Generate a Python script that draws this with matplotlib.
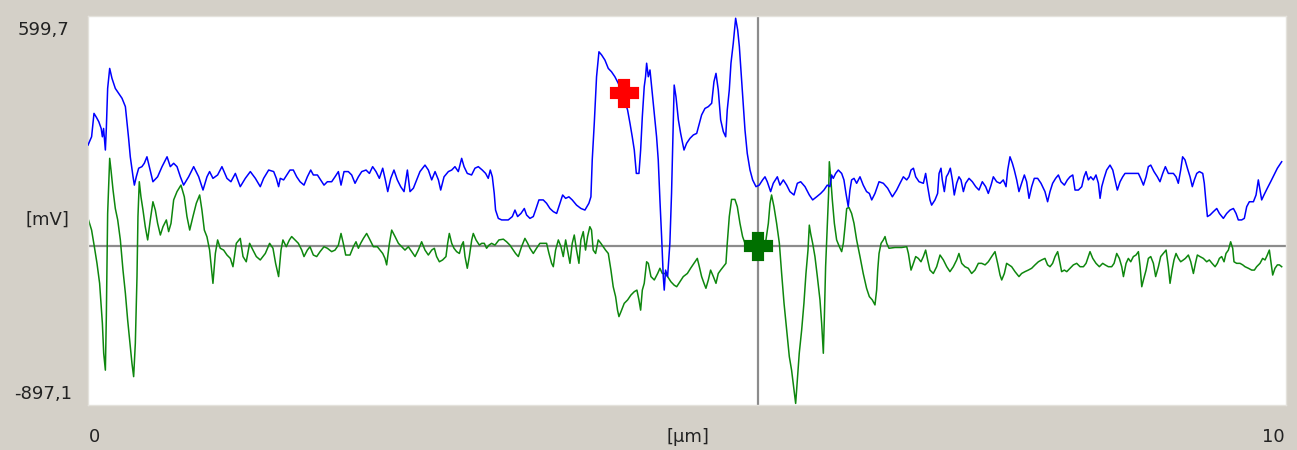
import numpy as np
import matplotlib
matplotlib.use("Agg")
import matplotlib.pyplot as plt

# profile traces, (position [um], signal [mV])
blue_trace = [
    (0.00, 103), (0.03, 135), (0.05, 225), (0.07, 210), (0.09, 193), (0.11, 167), (0.12, 135),
    (0.13, 167), (0.145, 84), (0.153, 167), (0.164, 321), (0.181, 398), (0.20, 360), (0.228, 321),
    (0.256, 302), (0.284, 283), (0.312, 251), (0.326, 187), (0.339, 129), (0.353, 58), (0.376, -19),
    (0.387, -51), (0.403, -19), (0.423, 14), (0.45, 20), (0.47, 33), (0.492, 58), (0.515, 14),
    (0.542, -38), (0.581, -19), (0.618, 20), (0.66, 58), (0.687, 20), (0.715, 33), (0.743, 20),
    (0.771, -19), (0.798, -51), (0.84, -19), (0.882, 20), (0.924, -19), (0.96, -70), (0.993, -19),
    (1.015, 1), (1.043, -25), (1.082, -12), (1.118, 20), (1.16, -25), (1.193, -38), (1.23, -6),
    (1.271, -57), (1.313, -25), (1.355, 1), (1.397, -25), (1.438, -57), (1.466, -25), (1.508, 7),
    (1.55, 1), (1.572, -25), (1.591, -57), (1.605, -25), (1.633, -31),
    (1.659, -12), (1.686, 7), (1.714, 7), (1.742, -19), (1.77, -38), (1.803, -51), (1.831, -19),
    (1.859, 7), (1.881, -12), (1.915, -12), (1.942, -31), (1.97, -51), (1.998, -38), (2.034, -38),
    (2.062, -19), (2.09, 1), (2.112, -51), (2.137, 1), (2.173, 1), (2.201, -12), (2.229, -44),
    (2.257, -19), (2.285, 1), (2.321, 7), (2.349, -6), (2.376, 20), (2.404, 1), (2.432, -25),
    (2.46, 14), (2.482, -31), (2.502, -76), (2.527, -25), (2.554, 7), (2.582, -31), (2.61, -57),
    (2.638, -76), (2.666, 7), (2.688, -76), (2.716, -63), (2.744, -31), (2.771, 1), (2.813, 26),
    (2.841, 7), (2.869, -31), (2.897, 1), (2.925, -31), (2.944, -70), (2.972, -19), (3.008, 1),
    (3.036, 7), (3.063, 20), (3.091, 1), (3.119, 52), (3.139, 20), (3.166, -6), (3.202, -12),
    (3.23, 14), (3.258, 20),
    (3.291, 7), (3.319, -6), (3.341, -25), (3.358, 7), (3.375, -19), (3.391, -83), (3.402, -147),
    (3.425, -179), (3.453, -185), (3.508, -185), (3.542, -172), (3.564, -147), (3.586, -172),
    (3.614, -160), (3.642, -141), (3.661, -166), (3.689, -179), (3.717, -172), (3.736, -147),
    (3.764, -108), (3.8, -108), (3.828, -121), (3.856, -141), (3.884, -153), (3.912, -160),
    (3.939, -121), (3.962, -89), (3.987, -102), (4.014, -96), (4.042, -108), (4.078, -128),
    (4.115, -141), (4.148, -147), (4.181, -121), (4.198, -96), (4.209, 46), (4.226, 187),
    (4.245, 366), (4.265, 462), (4.287, 450), (4.315, 430), (4.343, 398), (4.37, 385), (4.398, 366),
    (4.426, 341), (4.454, 309), (4.482, 270), (4.504, 238), (4.524, 187), (4.543, 135), (4.56, 84),
    (4.577, -6), (4.599, -6), (4.613, 84), (4.627, 212), (4.643, 328), (4.654, 366), (4.663, 418),
    (4.677, 366), (4.691, 392), (4.705, 328), (4.724, 238), (4.746, 135), (4.76, 46), (4.774, -108),
    (4.788, -249), (4.802, -403), (4.81, -455), (4.821, -378), (4.838, -403), (4.857, -275),
    (4.871, -83), (4.885, 174), (4.893, 334),
    (4.908, 289), (4.928, 200), (4.947, 148), (4.975, 84), (4.997, 110), (5.025, 129), (5.053, 142),
    (5.081, 148), (5.103, 187), (5.122, 219), (5.15, 244), (5.178, 251), (5.206, 264), (5.225, 347),
    (5.242, 379), (5.261, 315), (5.281, 200), (5.303, 155), (5.323, 135), (5.336, 238), (5.353, 315),
    (5.367, 418), (5.386, 494), (5.406, 591), (5.423, 546), (5.437, 482), (5.45, 392), (5.464, 289),
    (5.484, 161), (5.503, 71), (5.526, 7), (5.548, -31), (5.576, -57), (5.603, -51), (5.631, -31),
    (5.651, -19), (5.67, -38), (5.698, -76), (5.72, -44), (5.754, -19), (5.776, -51), (5.804, -31),
    (5.832, -51), (5.859, -76), (5.893, -89), (5.921, -44), (5.949, -38), (5.985, -57), (6.021, -89),
    (6.049, -108), (6.082, -96), (6.116, -83), (6.143, -70), (6.171, -51), (6.193, -57), (6.207, -12),
    (6.221, -25), (6.241, -6), (6.263, 7), (6.291, -6), (6.31, -31), (6.327, -83), (6.346, -134),
    (6.36, -70), (6.374, -31), (6.394, -25), (6.416, -44), (6.444, -19), (6.471, -51), (6.499, -76),
    (6.522, -83),
    (6.542, -108), (6.569, -83), (6.603, -38), (6.639, -44), (6.675, -63), (6.714, -96), (6.75, -70),
    (6.778, -44), (6.806, -19), (6.834, -31), (6.853, -19), (6.87, 7), (6.89, 14), (6.909, -19),
    (6.937, -38), (6.973, -44), (6.992, -6), (7.009, -57), (7.028, -108), (7.042, -128), (7.07, -108),
    (7.092, -83), (7.104, -6), (7.12, 14), (7.131, -31), (7.148, -76), (7.165, -19), (7.181, -6),
    (7.198, 14), (7.215, -31), (7.231, -89), (7.251, -44), (7.27, -19), (7.287, -31), (7.307, -76),
    (7.326, -44), (7.354, -25), (7.382, -38), (7.41, -57), (7.437, -70), (7.465, -38), (7.493, -57),
    (7.515, -83), (7.538, -51), (7.557, -19), (7.585, -38), (7.613, -44), (7.64, -31), (7.663, -57),
    (7.677, 7), (7.696, 58), (7.716, 33), (7.732, 7), (7.752, -31), (7.771, -76), (7.793, -44),
    (7.816, -12), (7.835, -38), (7.855, -102), (7.877, -57), (7.899, -25), (7.927, -25), (7.955, -44),
    (7.988, -76), (8.01, -115), (8.03, -76), (8.052, -44), (8.077, -25), (8.1, -12), (8.122, -38),
    (8.15, -51),
    (8.175, -31), (8.197, -19), (8.22, -12), (8.239, -70), (8.267, -70), (8.295, -57), (8.314, -19),
    (8.331, 1), (8.35, -31), (8.37, -19), (8.392, -31), (8.414, -12), (8.434, -44), (8.448, -102),
    (8.462, -57), (8.481, -25), (8.503, 7), (8.531, 26), (8.554, 7), (8.573, -31), (8.592, -70),
    (8.615, -38), (8.637, -19), (8.656, -6), (8.698, -6), (8.732, -6), (8.768, -6), (8.787, -25),
    (8.81, -51), (8.832, -19), (8.851, 20), (8.871, 26), (8.898, 1), (8.926, -19), (8.948, -38),
    (8.971, -6), (8.993, 20), (9.018, -6), (9.06, -6), (9.082, -19), (9.101, -44), (9.121, 7),
    (9.137, 58), (9.157, 46), (9.177, 14), (9.199, -19), (9.218, -57), (9.235, -31), (9.255, -6),
    (9.277, 1), (9.305, -6), (9.318, -44), (9.333, -121), (9.344, -172), (9.366, -166), (9.394, -153),
    (9.422, -141), (9.444, -160), (9.477, -179), (9.505, -160), (9.533, -147), (9.561, -141),
    (9.583, -160), (9.602, -185), (9.63, -185), (9.652, -179), (9.672, -134), (9.694, -115),
    (9.728, -115), (9.75, -89), (9.769, -31), (9.783, -70), (9.797, -108), (9.816, -89), (9.844, -63),
    (9.872, -38), (9.9, -12), (9.928, 14), (9.964, 39),
]

green_trace = [
    (0.00, -179), (0.03, -224), (0.053, -288), (0.075, -352), (0.097, -429), (0.108, -500),
    (0.12, -583), (0.131, -698), (0.145, -763), (0.153, -557), (0.164, -160), (0.181, 52),
    (0.192, 7), (0.209, -70), (0.228, -141), (0.248, -185), (0.27, -262), (0.292, -378),
    (0.312, -467), (0.331, -570), (0.348, -647), (0.367, -737), (0.381, -788), (0.395, -660),
    (0.409, -403), (0.417, -172), (0.428, -38), (0.442, -96), (0.459, -147), (0.478, -211),
    (0.498, -262), (0.52, -185), (0.542, -115), (0.562, -147), (0.581, -198), (0.604, -243),
    (0.626, -211), (0.654, -185), (0.673, -230), (0.693, -198), (0.715, -108), (0.743, -76),
    (0.776, -51), (0.804, -96), (0.826, -172), (0.849, -224), (0.876, -172), (0.904, -121),
    (0.932, -89), (0.951, -147), (0.971, -224), (0.993, -250), (1.015, -301), (1.043, -429),
    (1.063, -314), (1.082, -262), (1.104, -294), (1.132, -301), (1.16, -320), (1.188, -333),
    (1.21, -365), (1.238, -275), (1.271, -256), (1.294, -326), (1.321, -346), (1.349, -275),
    (1.377, -301), (1.405, -326), (1.438, -339), (1.48, -314), (1.516, -275), (1.544, -294),
    (1.566, -352), (1.591, -403), (1.611, -301), (1.627, -262), (1.655, -288),
    (1.681, -262), (1.7, -249), (1.728, -262), (1.756, -275), (1.784, -301), (1.803, -326),
    (1.831, -301), (1.853, -288), (1.881, -320), (1.909, -326), (1.937, -307), (1.97, -288),
    (1.998, -294), (2.034, -307), (2.062, -301), (2.09, -282), (2.112, -237), (2.131, -275),
    (2.151, -320), (2.187, -320), (2.215, -288), (2.237, -269), (2.257, -294), (2.276, -275),
    (2.299, -256), (2.326, -237), (2.354, -262), (2.382, -288), (2.415, -288), (2.438, -301),
    (2.46, -314), (2.479, -333), (2.493, -358), (2.516, -275), (2.535, -224), (2.563, -249),
    (2.591, -275), (2.618, -288), (2.646, -301), (2.674, -288), (2.702, -307), (2.73, -326),
    (2.757, -301), (2.785, -269), (2.813, -301), (2.841, -320), (2.869, -301), (2.891, -294),
    (2.91, -326), (2.933, -346), (2.96, -339), (2.988, -326), (3.002, -275), (3.016, -237),
    (3.036, -275), (3.055, -294), (3.077, -307), (3.1, -314), (3.119, -282), (3.133, -269),
    (3.147, -326), (3.166, -371), (3.183, -326), (3.203, -262), (3.216, -237), (3.239, -262),
    (3.267, -282),
    (3.286, -275), (3.308, -275), (3.327, -294), (3.347, -282), (3.369, -275), (3.397, -282),
    (3.43, -262), (3.467, -259), (3.494, -269), (3.522, -282), (3.55, -301), (3.569, -314),
    (3.592, -326), (3.619, -288), (3.647, -256), (3.67, -275), (3.689, -294), (3.717, -314),
    (3.744, -294), (3.772, -275), (3.8, -275), (3.828, -275), (3.848, -314), (3.87, -352),
    (3.884, -365), (3.903, -301), (3.926, -262), (3.948, -288), (3.967, -326), (3.987, -262),
    (4.003, -301), (4.023, -352), (4.042, -275), (4.059, -243), (4.078, -301), (4.098, -352),
    (4.114, -262), (4.134, -230), (4.153, -301), (4.17, -249), (4.189, -211), (4.203, -224),
    (4.217, -301), (4.237, -314), (4.259, -262), (4.281, -275), (4.301, -288), (4.32, -301),
    (4.343, -314), (4.365, -378), (4.384, -442), (4.404, -480), (4.42, -532), (4.432, -557),
    (4.449, -538), (4.476, -506), (4.504, -493), (4.532, -474), (4.56, -461), (4.582, -455),
    (4.599, -493), (4.613, -532), (4.627, -455), (4.643, -429), (4.663, -346), (4.677, -352),
    (4.699, -403), (4.727, -416), (4.755, -391), (4.774, -371), (4.794, -391), (4.816, -391),
    (4.838, -403), (4.866, -423), (4.893, -436),
    (4.914, -442), (4.941, -423), (4.969, -403), (5.003, -391), (5.03, -371), (5.058, -352),
    (5.086, -333), (5.103, -365), (5.122, -403), (5.142, -429), (5.158, -448), (5.178, -416),
    (5.197, -378), (5.22, -403), (5.242, -429), (5.261, -391), (5.281, -378), (5.303, -365),
    (5.325, -352), (5.336, -275), (5.353, -172), (5.372, -106), (5.4, -106), (5.42, -134),
    (5.442, -198), (5.464, -249), (5.484, -275), (5.511, -282), (5.548, -285), (5.587, -285),
    (5.623, -282), (5.659, -262), (5.679, -198), (5.693, -121), (5.706, -89), (5.726, -134),
    (5.748, -198), (5.771, -275), (5.79, -391), (5.81, -506), (5.832, -609), (5.854, -711),
    (5.873, -763), (5.893, -839), (5.907, -891), (5.921, -801), (5.937, -698), (5.957, -609),
    (5.976, -506), (5.993, -391), (6.01, -301), (6.021, -205), (6.032, -237), (6.049, -275),
    (6.068, -326), (6.088, -403), (6.11, -493), (6.124, -583), (6.138, -698), (6.146, -570),
    (6.157, -365), (6.171, -211), (6.182, -83), (6.188, 39), (6.199, -19), (6.213, -108),
    (6.23, -198), (6.249, -262), (6.272, -288), (6.291, -307), (6.305, -275), (6.319, -211),
    (6.333, -141), (6.352, -137), (6.374, -160), (6.394, -198), (6.416, -262), (6.444, -326),
    (6.471, -391), (6.499, -448), (6.522, -480),
    (6.547, -493), (6.569, -512), (6.583, -455), (6.592, -378), (6.603, -314), (6.62, -275),
    (6.639, -262), (6.653, -249), (6.667, -275), (6.686, -294), (6.736, -291), (6.792, -291),
    (6.834, -288), (6.848, -314), (6.87, -378), (6.89, -352), (6.909, -326), (6.931, -333),
    (6.953, -346), (6.973, -326), (6.992, -301), (7.009, -339), (7.028, -378), (7.056, -391),
    (7.084, -365), (7.112, -320), (7.14, -339), (7.168, -365), (7.195, -384), (7.223, -365),
    (7.251, -339), (7.27, -314), (7.293, -352), (7.32, -365), (7.348, -371), (7.376, -391),
    (7.404, -378), (7.432, -352), (7.46, -352), (7.488, -358), (7.515, -346), (7.543, -326),
    (7.571, -307), (7.593, -352), (7.613, -397), (7.627, -416), (7.649, -391), (7.668, -352),
    (7.688, -358), (7.71, -365), (7.738, -384), (7.771, -403), (7.793, -391), (7.821, -384),
    (7.849, -378), (7.877, -371), (7.905, -358), (7.933, -346), (7.96, -339), (7.988, -333),
    (8.01, -358), (8.03, -365), (8.052, -352), (8.072, -326), (8.094, -307), (8.114, -352),
    (8.127, -384), (8.15, -378),
    (8.17, -384), (8.197, -371), (8.225, -358), (8.253, -352), (8.281, -365), (8.309, -365),
    (8.331, -352), (8.35, -326), (8.364, -307), (8.387, -333), (8.414, -352), (8.442, -365),
    (8.47, -352), (8.49, -358), (8.517, -365), (8.545, -365), (8.565, -352), (8.587, -314),
    (8.609, -333), (8.629, -365), (8.643, -403), (8.665, -352), (8.684, -333), (8.704, -346),
    (8.726, -326), (8.748, -320), (8.768, -307), (8.782, -365), (8.796, -442), (8.81, -416),
    (8.832, -378), (8.851, -333), (8.871, -326), (8.893, -352), (8.912, -403), (8.935, -365),
    (8.954, -326), (8.976, -314), (8.999, -301), (9.018, -365), (9.032, -429), (9.049, -378),
    (9.065, -339), (9.082, -314), (9.102, -333), (9.121, -346), (9.143, -339), (9.16, -333),
    (9.185, -320), (9.205, -346), (9.227, -391), (9.244, -352), (9.26, -320), (9.282, -326),
    (9.31, -333), (9.338, -346), (9.36, -339), (9.383, -352), (9.408, -365), (9.427, -352),
    (9.444, -333), (9.463, -326), (9.483, -346), (9.499, -314), (9.519, -301), (9.538, -269),
    (9.555, -294), (9.566, -346), (9.588, -352), (9.616, -352), (9.639, -358), (9.658, -365),
    (9.686, -371), (9.714, -378), (9.736, -378), (9.755, -365), (9.783, -352), (9.805, -333),
    (9.825, -339), (9.844, -320), (9.861, -301), (9.872, -339), (9.889, -397), (9.908, -371),
    (9.928, -358), (9.945, -358), (9.964, -365),
]

# cursors / markers
cursor_x = 5.59
cursor_y = -284
red_mark = (4.47, 302)
green_mark = (5.59, -285)

y_min, y_max = -897.1, 599.7
x_min, x_max = 0, 10

bg = "#D4D0C8"

fig = plt.figure(figsize=(12.97, 4.5), dpi=100, facecolor=bg)
ax = fig.add_axes([88 / 1297, 1 - 405 / 450, (1286 - 88) / 1297, (405 - 16) / 450])
ax.set_facecolor("white")

bx, by = zip(*blue_trace)
gx, gy = zip(*green_trace)

ax.axvline(cursor_x, color="#8c8c8c", lw=1.6, zorder=1)
ax.axhline(cursor_y, color="#8c8c8c", lw=1.6, zorder=1)

ax.plot(gx, gy, color="#0e870e", lw=1.1, zorder=2)
ax.plot(bx, by, color="#0000ff", lw=1.1, zorder=3)

# thick rounded crosses
ax.plot(*red_mark, marker="P", markersize=18, color="#ff0000",
        markeredgecolor="#ff0000", markeredgewidth=3, zorder=5)
ax.plot(*green_mark, marker="P", markersize=18, color="#007000",
        markeredgecolor="#007000", markeredgewidth=3, zorder=5)

ax.set_xlim(x_min, x_max)
ax.set_ylim(y_min, y_max)
ax.set_xticks([])
ax.set_yticks([])
for s in ax.spines.values():
    s.set_color("#e4e2dc")
    s.set_linewidth(1)

fs = 13
tc = "#222222"
fig.text(43 / 1297, 1 - 30 / 450, "599,7", ha="center", va="center", fontsize=fs, color=tc)
fig.text(47 / 1297, 1 - 220 / 450, "[mV]", ha="center", va="center", fontsize=fs, color=tc)
fig.text(43 / 1297, 1 - 394 / 450, "-897,1", ha="center", va="center", fontsize=fs, color=tc)
fig.text(95 / 1297, 1 - 437 / 450, "0", ha="center", va="center", fontsize=fs, color=tc)
fig.text(688 / 1297, 1 - 437 / 450, "[µm]", ha="center", va="center", fontsize=fs, color=tc)
fig.text(1273 / 1297, 1 - 437 / 450, "10", ha="center", va="center", fontsize=fs, color=tc)

fig.savefig("out.png", dpi=100, facecolor=bg)
